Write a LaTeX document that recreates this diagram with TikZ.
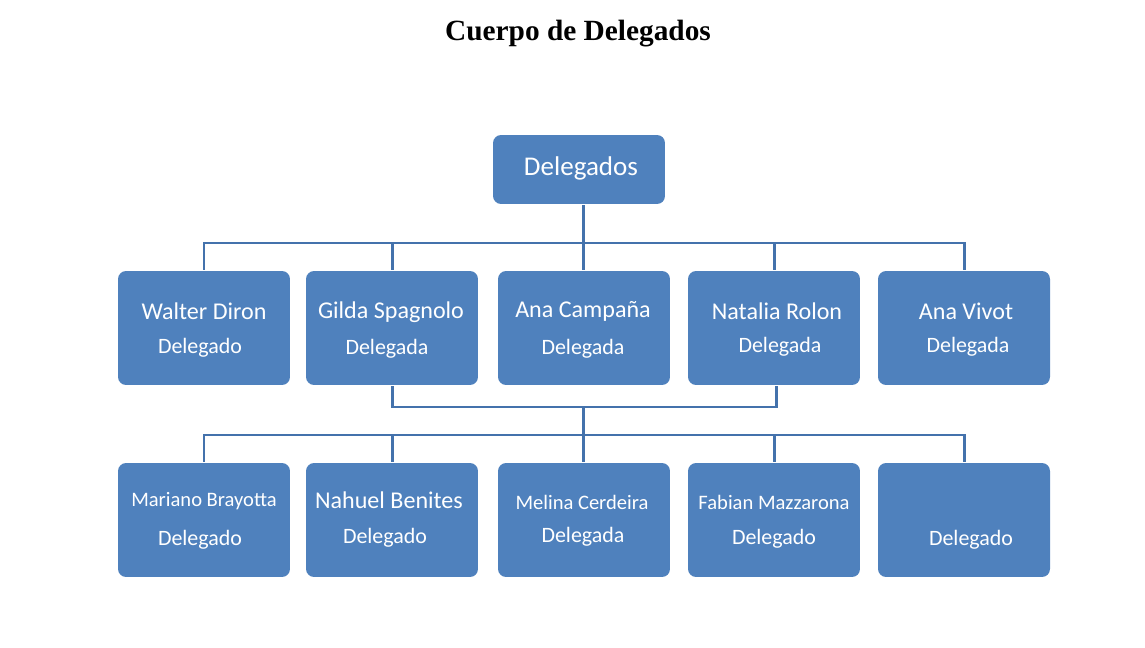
\documentclass[tikz,border=0pt]{standalone}
\usepackage{fontspec}
\setmainfont{Carlito}
\newfontfamily\titlefont{Liberation Serif}
\definecolor{boxblue}{HTML}{4F81BD}
\definecolor{lineblue}{HTML}{4472AC}

\begin{document}
\begin{tikzpicture}[x = 0.02cm, y = -0.02cm, line width = 1.7pt,
                        delegbox/.style = {rectangle, rounded corners = 0.16cm, fill = boxblue, draw = none,
                                      minimum width = 3.44cm, minimum height = 2.28cm, inner sep = 0pt},
                        topbox/.style = {delegbox, minimum height = 1.38cm},
                        personname/.style = {text = white, font = \fontsize{13.7}{16}\selectfont, inner sep = 0pt},
                        smallname/.style = {personname, font = \fontsize{11.7}{14}\selectfont},
                        roletext/.style = {text = white, font = \fontsize{12.5}{15}\selectfont, inner sep = 0pt},
                        link/.style = {draw = lineblue}]
      \useasboundingbox (0, 0) rectangle (1145, 648);
      \node [font = \titlefont\bfseries\fontsize{16.7}{20}\selectfont] (title) at (578, 34){Cuerpo de Delegados};

      \node [topbox] (top) at (579, 169.5){};
      \node [text = white, font = \fontsize{15.4}{18}\selectfont, inner sep = 0pt] (toplabel) at (581, 168){Delegados};

      \node [delegbox] (walter) at (204, 328){};
      \node [delegbox] (gilda) at (392, 328){};
      \node [delegbox] (ana) at (584, 328){};
      \node [delegbox] (natalia) at (774, 328){};
      \node [delegbox] (vivot) at (964, 328){};

      \node [delegbox] (mariano) at (204, 520){};
      \node [delegbox] (nahuel) at (392, 520){};
      \node [delegbox] (melina) at (584, 520){};
      \node [delegbox] (fabian) at (774, 520){};
      \node [delegbox] (vacante) at (964, 520){};

      \node [personname] (walterN) at (204, 311){Walter Diron};
      \node [roletext] (walterR) at (200, 348){Delegado};
      \node [personname] (gildaN) at (391, 312){Gilda Spagnolo};
      \node [roletext] (gildaR) at (387, 349){Delegada};
      \node [personname] (anaN) at (583, 311){Ana Campaña};
      \node [roletext] (anaR) at (583, 349){Delegada};
      \node [personname] (nataliaN) at (777, 311){Natalia Rolon};
      \node [roletext] (nataliaR) at (780, 347){Delegada};
      \node [personname] (vivotN) at (966, 311){Ana Vivot};
      \node [roletext] (vivotR) at (968, 347){Delegada};

      \node [smallname] (marianoN) at (204, 501){Mariano Brayotta};
      \node [roletext] (marianoR) at (200, 540){Delegado};
      \node [personname] (nahuelN) at (389, 500){Nahuel Benites};
      \node [roletext] (nahuelR) at (385, 538){Delegado};
      \node [smallname] (melinaN) at (582, 502){Melina Cerdeira};
      \node [roletext] (melinaR) at (583, 537){Delegada};
      \node [smallname] (fabianN) at (774, 502){Fabian Mazzarona};
      \node [roletext] (fabianR) at (774, 539){Delegado};
      \node [roletext] (vacanteR) at (971, 540){Delegado};

      \coordinate (bus1) at (583, 243);
      \coordinate (join) at (583, 407);
      \coordinate (bus2) at (583, 435);

      \draw [link] (top.south -| bus1) -- (bus1);
      \draw [link] (walter.north) |- (bus1) -| (vivot.north);
      \draw [link] (gilda.north) -- (gilda.north |- bus1);
      \draw [link] (ana.north -| bus1) -- (bus1);
      \draw [link] (natalia.north) -- (natalia.north |- bus1);

      \draw [link] (gilda.south) |- (join) -| ([xshift = 0.04cm]natalia.south);
      \draw [link] (join) -- (bus2);
      \draw [link] (mariano.north) |- (bus2) -| (vacante.north);
      \draw [link] (nahuel.north) -- (nahuel.north |- bus2);
      \draw [link] (melina.north -| bus2) -- (bus2);
      \draw [link] (fabian.north) -- (fabian.north |- bus2);
    \end{tikzpicture}
\end{document}
